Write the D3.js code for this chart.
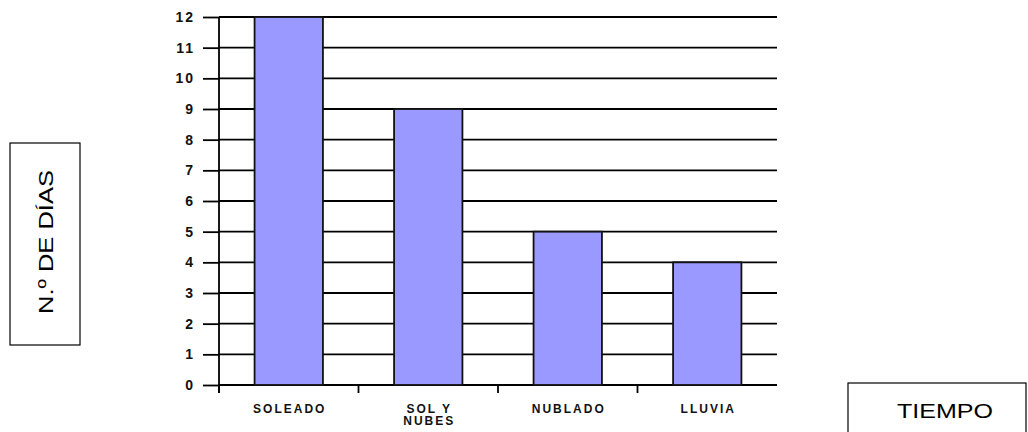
<!DOCTYPE html>
<html>
<head>
<meta charset="utf-8">
<script src="https://cdn.jsdelivr.net/npm/d3@7"></script>
<style>
body { margin:0; background:#fff; }
svg text { font-family: "Liberation Sans", Arial, sans-serif; }
</style>
</head>
<body>
<div id="chart"></div>
<script>
var categories = ["SOLEADO", "SOL Y NUBES", "NUBLADO", "LLUVIA"];
var catLines = [["SOLEADO"], ["SOL Y", "NUBES"], ["NUBLADO"], ["LLUVIA"]];
var dias = [12, 9, 5, 4];
var yTicks = [0,1,2,3,4,5,6,7,8,9,10,11,12];

var width = 1028, height = 432;
var axisX = 219, gridEnd = 777, yTop = 17, yBottom = 385;

var svg = d3.select("#chart")
  .append("svg")
  .attr("width", width)
  .attr("height", height);

var x = d3.scaleBand()
  .domain(categories)
  .range([axisX, gridEnd])
  .paddingInner(0.51)
  .paddingOuter(0.255);

var y = d3.scaleLinear().domain([0, 12]).range([yBottom, yTop]);

var step = x.step();

// gridlines
svg.selectAll(".grid")
  .data(yTicks)
  .enter()
  .append("line")
  .attr("x1", axisX)
  .attr("x2", gridEnd)
  .attr("y1", function(d) { return y(d); })
  .attr("y2", function(d) { return y(d); })
  .attr("stroke", "#000")
  .attr("stroke-width", 1.8);

// y axis
var yAxis = svg.append("g")
  .attr("transform", "translate(" + axisX + ",0)")
  .call(d3.axisLeft(y).tickValues(yTicks).tickSize(16).tickPadding(8));
yAxis.select(".domain").remove();
yAxis.selectAll(".tick line").attr("stroke", "#000").attr("stroke-width", 1.8);
yAxis.selectAll(".tick text")
  .attr("font-family", "Liberation Sans, Arial, sans-serif")
  .attr("font-size", "14px")
  .attr("font-weight", "bold")
  .attr("letter-spacing", "2px")
  .attr("fill", "#111");

svg.append("line")
  .attr("x1", axisX).attr("x2", axisX)
  .attr("y1", y(12)).attr("y2", yBottom + 8)
  .attr("stroke", "#000").attr("stroke-width", 1.8);

// bars
svg.selectAll(".bar")
  .data(dias)
  .enter()
  .append("rect")
  .attr("class", "bar")
  .attr("x", function(d, i) { return x(categories[i]); })
  .attr("y", function(d) { return y(d); })
  .attr("width", x.bandwidth())
  .attr("height", function(d) { return y(0) - y(d); })
  .attr("fill", "#9999ff")
  .attr("stroke", "#111")
  .attr("stroke-width", 1.8);

// x ticks at band boundaries
svg.selectAll(".xtick")
  .data(categories)
  .enter()
  .append("line")
  .attr("x1", function(d) { return x(d) - step * 0.255; })
  .attr("x2", function(d) { return x(d) - step * 0.255; })
  .attr("y1", yBottom)
  .attr("y2", yBottom + 8)
  .attr("stroke", "#000")
  .attr("stroke-width", 1.8);

// category labels
var lab = svg.selectAll(".cat")
  .data(catLines)
  .enter()
  .append("text")
  .attr("text-anchor", "middle")
  .attr("font-size", "12px")
  .attr("font-weight", "bold")
  .attr("letter-spacing", "2px")
  .attr("fill", "#111");
lab.selectAll("tspan")
  .data(function(d, i) { return d.map(function(t) { return {t: t, i: i}; }); })
  .enter()
  .append("tspan")
  .attr("x", function(d) { return x(categories[d.i]) + x.bandwidth() / 2 + 1; })
  .attr("y", function(d, j) { return 413 + j * 12; })
  .text(function(d) { return d.t; });

// y title box
svg.append("rect")
  .attr("x", 10).attr("y", 143)
  .attr("width", 70).attr("height", 202)
  .attr("fill", "none").attr("stroke", "#000").attr("stroke-width", 1.2);
svg.append("text")
  .attr("transform", "translate(53,242) rotate(-90)")
  .attr("text-anchor", "middle")
  .attr("font-size", "21px")
  .attr("textLength", 144)
  .attr("lengthAdjust", "spacingAndGlyphs")
  .attr("fill", "#000")
  .text("N.º DE DÍAS");

// x title box
svg.append("rect")
  .attr("x", 848).attr("y", 383)
  .attr("width", 178).attr("height", 70)
  .attr("fill", "none").attr("stroke", "#000").attr("stroke-width", 1.2);
svg.append("text")
  .attr("x", 945).attr("y", 418)
  .attr("text-anchor", "middle")
  .attr("font-size", "21px")
  .attr("textLength", 96)
  .attr("lengthAdjust", "spacingAndGlyphs")
  .attr("fill", "#000")
  .text("TIEMPO");
</script>
</body>
</html>
